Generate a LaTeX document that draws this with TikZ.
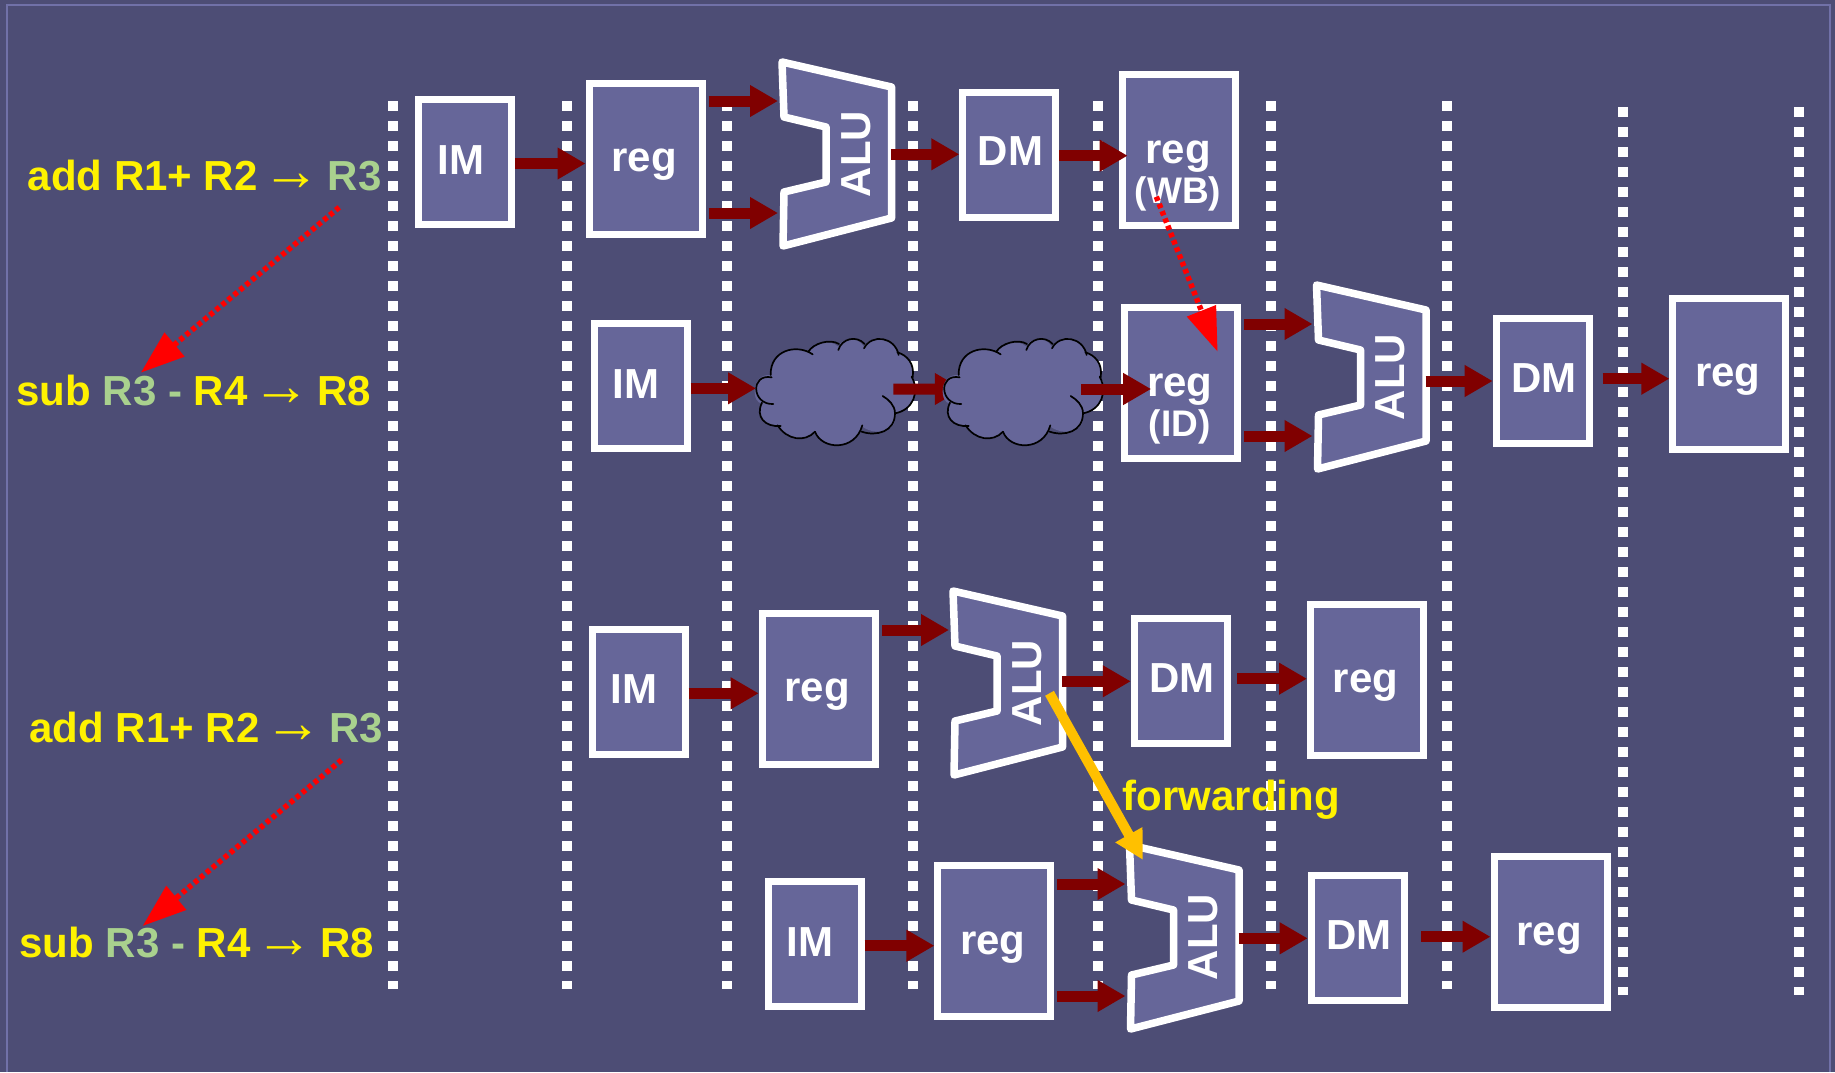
\documentclass[tikz,border=0pt]{standalone}
\usepackage{fontspec}
\setmainfont{Liberation Sans}
\newfontfamily\arrowf{Liberation Serif}
\usetikzlibrary{arrows.meta}
\definecolor{bgc}{HTML}{4D4D75}
\definecolor{framec}{HTML}{7171A8}
\definecolor{boxc}{HTML}{666699}
\definecolor{flowc}{HTML}{800000}
\definecolor{rthree}{HTML}{A9D18E}
\definecolor{fwdc}{HTML}{FFC000}
\newcommand\tx[3]{\raisebox{-#2pt}[0pt][0pt]{\makebox[0pt]{\hspace{#1pt}\hspace{#1pt}#3}}}
\newcommand\smalltx{\fontsize{37}{37}\selectfont}
\newcommand\arr{\kern5pt{\arrowf\mdseries\fontsize{58}{58}\selectfont →}\kern7pt}
\newcommand\gr[1]{\textcolor{rthree}{#1}}
\newcommand\alublock[3]{%
  \begin{scope}[shift={(#2,#3)}]
    \draw[alushape] (0,0) -- (109.5,25) -- (109.5,156) -- (1,184) -- (2,130) -- (44,120) -- (44,65) -- (2,55) -- cycle;
    \node[biglbl,rotate=90] (#1) at (74,92) {ALU};
    \coordinate (#1-a) at (-4,39);
    \coordinate (#1-b) at (-4,151);
    \coordinate (#1-o) at (109,92);
  \end{scope}}
\newcommand\cloudblock[3]{%
  \begin{scope}[shift={(#2,#3)},x=0.3333pt,y=-0.3333pt]
    \fill[boxc] (92,165) .. controls (30,160) and (35,255) .. (68,250)
      .. controls (45,290) and (75,322) .. (115,318)
      .. controls (140,360) and (195,368) .. (225,335)
      .. controls (245,390) and (345,395) .. (367,320)
      .. controls (410,350) and (475,335) .. (465,280)
      .. controls (520,270) and (540,215) .. (515,170)
      .. controls (525,130) and (500,105) .. (474,100)
      .. controls (465,50) and (395,40) .. (372,80)
      .. controls (350,45) and (305,55) .. (295,80)
      .. controls (270,55) and (220,70) .. (208,98)
      .. controls (170,70) and (90,90) .. (92,165) -- cycle;
    \draw[cloudline] (95,172) .. controls (30,160) and (35,255) .. (100,252);
    \draw[cloudline] (66,248) .. controls (45,290) and (75,322) .. (122,318);
    \draw[cloudline] (113,316) .. controls (140,360) and (195,368) .. (225,335);
    \draw[cloudline] (225,335) .. controls (245,390) and (345,395) .. (367,316);
    \draw[cloudline] (365,335) .. controls (410,350) and (465,335) .. (465,280) .. controls (465,255) and (445,238) .. (428,228);
    \draw[cloudline] (465,280) .. controls (520,270) and (540,215) .. (515,170);
    \draw[cloudline] (518,172) .. controls (525,130) and (500,105) .. (472,97);
    \draw[cloudline] (476,105) .. controls (465,50) and (395,40) .. (372,85);
    \draw[cloudline] (374,72) .. controls (350,45) and (305,55) .. (295,90);
    \draw[cloudline] (297,72) .. controls (270,55) and (220,70) .. (205,95);
    \draw[cloudline] (218,103) .. controls (170,70) and (90,90) .. (92,165);
    \coordinate (#1-w) at (48,205);
    \coordinate (#1-r) at (460,207);
  \end{scope}}
\tikzset{
  smallbox/.style={draw=white,fill=boxc,line width=7pt,minimum width=93pt,minimum height=125pt,inner sep=0pt,text=white,font=\fontsize{42}{42}\selectfont\bfseries},
  regbox/.style={smallbox,minimum width=113pt,minimum height=151pt},
  biglbl/.style={inner sep=0pt,text=white,font=\fontsize{42}{42}\selectfont\bfseries},
  alushape/.style={draw=white,fill=boxc,line width=7.5pt,line join=round},
  cloudline/.style={draw=black,line width=1.7pt,line cap=round},
  flow/.style={draw=flowc,line width=11pt,-{Triangle[length=28pt,width=30pt]}},
  dep/.style={draw=red,line width=5.5pt,dash pattern=on 4.5pt off 3.3pt,-{Triangle[length=44pt,width=30pt]}},
  fwd/.style={draw=fwdc,line width=10pt,-{Triangle[length=29pt,width=29pt]}},
  instr/.style={inner sep=0pt,anchor=base west,text=yellow,font=\fontsize{42}{42}\selectfont\bfseries},
  column/.style={draw=white,line width=10pt,dash pattern=on 10pt off 10pt}
}
\begin{document}
\begin{tikzpicture}[x=1pt,y=-1pt]
\useasboundingbox (0,0) rectangle (1835,1072);
\fill[bgc] (0,0) rectangle (1835,1072);
\draw[framec,line width=2.2pt] (7,1072) -- (7,5) -- (1830,5) -- (1830,1072);
% dotted stage lines
\foreach \cx in {393,567,727,913,1098,1271,1447} \draw[column] (\cx,101) -- (\cx,989);
\foreach \cx in {1622.6,1799} \draw[column] (\cx,107) -- (\cx,995);
% instruction labels
\node[instr] (i1) at (27.6,190) {add R1+ R2\arr\gr{R3}};
\node[instr] (i2) at (16.4,405) {sub \gr{R3 -} R4\arr R8};
\node[instr] (i3) at (29.3,742.7) {add R1+ R2\arr\gr{R3}};
\node[instr] (i4) at (19.4,957.7) {sub \gr{R3 -} R4\arr R8};
% row 1
\node[smallbox] (im1) at (465.4,162) {\tx{-4.5}{12}{IM}};
\node[regbox] (reg1) at (645.5,159) {\tx{-1.5}{12.7}{reg}};
\alublock{alu1}{782}{62}
\node[smallbox] (dm1) at (1009.3,154.7) {\tx{1.2}{11}{DM}};
\node[regbox] (regwb) at (1179,150) {\tx{-1}{13}{reg}\tx{-1}{53}{\smalltx (WB)}};
\draw[flow] (im1.east |- 0,163.5) -- (reg1.west |- 0,163.5);
\draw[flow,shorten <=3pt] (reg1.east |- alu1-a) -- (alu1-a);
\draw[flow,shorten <=3pt] (reg1.east |- alu1-b) -- (alu1-b);
\draw[flow] (alu1-o |- 0,154.3) -- (dm1.west |- 0,154.3);
\draw[flow,shorten >=-8.7pt] (dm1.east |- 0,155.7) -- (regwb.west |- 0,155.7);
% row 2
\coordinate (cl2-u) at (962.8,389);
\node[smallbox] (im2) at (640.5,386) {\tx{-4.5}{12}{IM}};
\node[regbox] (regid) at (1180.8,383) {\tx{-1}{13.7}{reg}\tx{-1}{53.7}{\smalltx (ID)}};
\alublock{alu2}{1316.5}{285}
\node[smallbox] (dm2) at (1542.7,381.3) {\tx{1.2}{11.4}{DM}};
\node[regbox] (reg2) at (1729.4,374) {\tx{-1.5}{12}{reg}};
\cloudblock{cl1}{740}{320}
\draw[flow] (im2.east |- cl1-w) -- (cl1-w);
\draw[flow] (cl1-r) -- (cl2-u);
\cloudblock{cl2}{928}{320}
\draw[flow,shorten >=-30.4pt] (cl2-r) -- (regid.west |- cl2-r);
\draw[flow,shorten <=3.5pt] (regid.east |- alu2-a) -- (alu2-a);
\draw[flow,shorten <=3.5pt] (regid.east |- alu2-b) -- (alu2-b);
\draw[flow] (alu2-o |- 0,381) -- (dm2.west |- 0,381);
\draw[flow,shorten <=10pt] (dm2.east |- 0,378.7) -- (reg2.west |- 0,378.7);
% row 3
\node[smallbox] (im3) at (638.5,691.7) {\tx{-4.5}{12}{IM}};
\node[regbox] (reg3) at (818.7,688.8) {\tx{-1.5}{12.7}{reg}};
\alublock{alu3}{953}{591}
\node[smallbox] (dm3) at (1180.8,681.3) {\tx{1.2}{11}{DM}};
\node[regbox] (regc) at (1367,680) {\tx{-1.5}{12.7}{reg}};
\draw[flow] (im3.east |- 0,693.3) -- (reg3.west |- 0,693.3);
\draw[flow,shorten <=3.5pt] (reg3.east |- alu3-a) -- (alu3-a);
\draw[flow] (alu3-o |- 0,681.3) -- (dm3.west |- 0,681.3);
\draw[flow,shorten <=6.5pt] (dm3.east |- 0,678.7) -- (regc.west |- 0,678.7);
% row 4
\node[smallbox] (im4) at (814.5,944) {\tx{-4.5}{12}{IM}};
\node[regbox] (reg4) at (994.4,941.3) {\tx{-1.5}{12.7}{reg}};
\alublock{alu4}{1129.5}{845}
\node[smallbox] (dm4) at (1357.7,938.3) {\tx{1.2}{11}{DM}};
\node[regbox] (regd) at (1550.5,932.3) {\tx{-1.5}{12.7}{reg}};
\draw[flow] (im4.east |- 0,945.7) -- (reg4.west |- 0,945.7);
\draw[flow,shorten <=3pt] (reg4.east |- alu4-a) -- (alu4-a);
\draw[flow,shorten <=3pt] (reg4.east |- alu4-b) -- (alu4-b);
\draw[flow] (alu4-o |- 0,938.3) -- (dm4.west |- 0,938.3);
\draw[flow,shorten <=13.4pt] (dm4.east |- 0,936.7) -- (regd.west |- 0,936.7);
% forwarding
\coordinate (fs) at (1049.5,693.3);
\coordinate (fe) at (1143,860);
\draw[fwd] (fs) -- (fe);
\node[instr] (fl) at (1122.5,810.7) {forwarding};
% data dependences
\coordinate (d1s) at (339.2,207.3);
\coordinate (d1e) at (140.8,372.7);
\coordinate (d2s) at (341.5,760);
\coordinate (d2e) at (142.6,926);
\coordinate (d3s) at (1156.3,196.7);
\coordinate (d3e) at (1217.6,351.7);
\draw[dep] (d1s) -- (d1e);
\draw[dep] (d2s) -- (d2e);
\draw[dep] (d3s) -- (d3e);
\end{tikzpicture}
\end{document}
